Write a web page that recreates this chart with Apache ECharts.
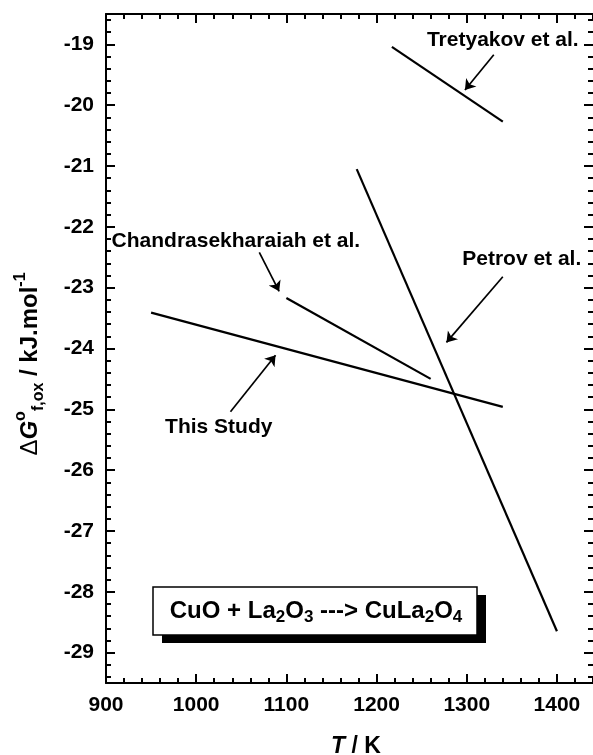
<!DOCTYPE html>
<html>
<head>
<meta charset="utf-8">
<script src="https://cdn.jsdelivr.net/npm/echarts@6/dist/echarts.min.js"></script>
<style>
html,body{margin:0;padding:0;background:#fff;}
#c{width:593px;height:755px;}
</style>
</head>
<body>
<div id="c"></div>
<script>
// ---- data ----
const xMajorTicks = [900, 1000, 1100, 1200, 1300, 1400];
const yMajorTicks = [-29, -28, -27, -26, -25, -24, -23, -22, -21, -20, -19];

const thisStudyT = [950, 1340];
const thisStudyG = [-23.41, -24.96];
const chandraT = [1100, 1260];
const chandraG = [-23.17, -24.50];
const petrovT = [1178, 1400];
const petrovG = [-21.05, -28.65];
const tretyakovT = [1217, 1340];
const tretyakovG = [-19.04, -20.27];

const labelNames = ['Tretyakov et al.', 'Petrov et al.', 'Chandrasekharaiah et al.', 'This Study'];
const labelT = [1340, 1361, 1044, 1025];
const labelG = [-18.93, -22.53, -22.24, -25.30];
const arrowTailT = [1330, 1340, 1070, 1038];
const arrowTailG = [-19.17, -22.82, -22.42, -25.04];
const arrowTipT = [1298, 1277.5, 1092, 1088];
const arrowTipG = [-19.75, -23.90, -23.06, -24.11];

// minor tick positions (every 20 K, every 0.2 kJ/mol)
const xMinorTicks = [];
for (let v = 900; v <= 1440; v += 20) { if (v % 100 !== 0) xMinorTicks.push(v); }
const yMinorTicks = [];
for (let k = -294; k <= -186; k += 2) { if (k % 10 !== 0) yMinorTicks.push(k / 10); }

// ---- chart ----
const FONT = 'Liberation Sans, Arial, Helvetica, sans-serif';
const chart = echarts.init(document.getElementById('c'), null, {renderer: 'canvas'});

const XMIN = 900, XMAX = 1440, YMIN = -29.5, YMAX = -18.5;

function axis(kind, position, ticks, len, showLine, showLabel) {
  return {
    type: 'value',
    position: position,
    min: kind === 'x' ? XMIN : YMIN,
    max: kind === 'x' ? XMAX : YMAX,
    axisLine: {show: showLine, onZero: false, lineStyle: {color: '#000', width: 2}},
    axisTick: {show: true, inside: true, length: len, customValues: ticks,
               lineStyle: {color: '#000', width: 2}},
    axisLabel: showLabel ? {show: true, customValues: ticks, color: '#000', fontSize: 21,
               fontWeight: 'bold', fontFamily: FONT, margin: 12,
               formatter: function (v) { return String(v); }} : {show: false},
    splitLine: {show: false},
    minorTick: {show: false},
    minorSplitLine: {show: false}
  };
}

function zip(a, b) { return a.map((v, i) => [v, b[i]]); }
function lineSeries(t, g) {
  return {type: 'line', data: zip(t, g), symbol: 'none', silent: true,
          xAxisIndex: 0, yAxisIndex: 0,
          lineStyle: {color: '#000', width: 2.2}};
}

const arrowData = arrowTailT.map((t, i) => ({
  coords: [[t, arrowTailG[i]], [arrowTipT[i], arrowTipG[i]]]
}));

const option = {
  animation: false,
  backgroundColor: '#fff',
  grid: {left: 106, top: 14, width: 488, height: 669, containLabel: false},
  xAxis: [
    axis('x', 'bottom', xMajorTicks, 9, true, true),
    axis('x', 'bottom', xMinorTicks, 5, false, false),
    axis('x', 'top', xMajorTicks, 9, true, false),
    axis('x', 'top', xMinorTicks, 5, false, false)
  ],
  yAxis: [
    axis('y', 'left', yMajorTicks, 9, true, true),
    axis('y', 'left', yMinorTicks, 5, false, false),
    axis('y', 'right', yMajorTicks, 9, false, false),
    axis('y', 'right', yMinorTicks, 5, false, false)
  ],
  series: [
    lineSeries(thisStudyT, thisStudyG),
    lineSeries(chandraT, chandraG),
    lineSeries(petrovT, petrovG),
    lineSeries(tretyakovT, tretyakovG),
    {
      type: 'lines', coordinateSystem: 'cartesian2d', xAxisIndex: 0, yAxisIndex: 0,
      silent: true, polyline: false,
      symbol: ['none', 'arrow'], symbolSize: 10,
      lineStyle: {color: '#000', width: 1.7, opacity: 1, curveness: 0},
      data: arrowData
    }
  ]
};
chart.setOption(option);

// annotations placed from data coordinates
const graphics = labelNames.map((name, i) => {
  const p = chart.convertToPixel({seriesIndex: 0}, [labelT[i], labelG[i]]);
  return {
    type: 'text', x: p[0], y: p[1], silent: true, z: 100,
    style: {text: name, fill: '#000', font: 'bold 21px ' + FONT,
            textAlign: 'center', textVerticalAlign: 'middle',
            align: 'center', verticalAlign: 'middle'}
  };
});

// reaction box with drop shadow
graphics.push({type: 'rect', shape: {x: 162, y: 595, width: 324, height: 48},
               style: {fill: '#000'}, z: 100, silent: true});
graphics.push({type: 'rect', shape: {x: 153, y: 587, width: 324, height: 48},
               style: {fill: '#fff', stroke: '#000', lineWidth: 1.5}, z: 101, silent: true});
graphics.push({
  type: 'text', x: 316, y: 611, z: 102, silent: true,
  style: {
    text: '{m|CuO + La}{s|2}{m|O}{s|3}{m| ---> CuLa}{s|2}{m|O}{s|4}',
    align: 'center', verticalAlign: 'middle', textAlign: 'center', textVerticalAlign: 'middle',
    fill: '#000',
    rich: {
      m: {fontFamily: FONT, fontSize: 24, fontWeight: 'bold', lineHeight: 30, fill: '#000'},
      s: {fontFamily: FONT, fontSize: 17, fontWeight: 'bold', lineHeight: 22, verticalAlign: 'bottom', fill: '#000'}
    }
  }
});

// y axis title
graphics.push({
  type: 'text', x: 30, y: 364, rotation: Math.PI / 2, z: 100, silent: true,
  style: {
    text: '{d|\u0394}{g|G}{sup|o}{sub|f,ox}{m| / kJ.mol}{sup|-1}',
    align: 'center', verticalAlign: 'middle', textAlign: 'center', textVerticalAlign: 'middle',
    fill: '#000',
    rich: {
      d: {fontFamily: FONT, fontSize: 24, fontWeight: 'normal', lineHeight: 34, fill: '#000'},
      g: {fontFamily: FONT, fontSize: 24, fontWeight: 'bold', fontStyle: 'italic', lineHeight: 34, fill: '#000'},
      m: {fontFamily: FONT, fontSize: 24, fontWeight: 'bold', lineHeight: 34, fill: '#000'},
      sup: {fontFamily: FONT, fontSize: 16, fontWeight: 'bold', lineHeight: 18, verticalAlign: 'top', fill: '#000'},
      sub: {fontFamily: FONT, fontSize: 16, fontWeight: 'bold', lineHeight: 16, verticalAlign: 'bottom', fill: '#000'}
    }
  }
});

// x axis title
graphics.push({
  type: 'text', x: 356, y: 747, z: 100, silent: true,
  style: {
    text: '{t|T}{k| / K}',
    align: 'center', verticalAlign: 'middle', textAlign: 'center', textVerticalAlign: 'middle',
    fill: '#000',
    rich: {
      t: {fontFamily: FONT, fontSize: 23, fontWeight: 'bold', fontStyle: 'italic', fill: '#000'},
      k: {fontFamily: FONT, fontSize: 23, fontWeight: 'bold', fill: '#000'}
    }
  }
});

chart.setOption({graphic: {elements: graphics}});
</script>
</body>
</html>
